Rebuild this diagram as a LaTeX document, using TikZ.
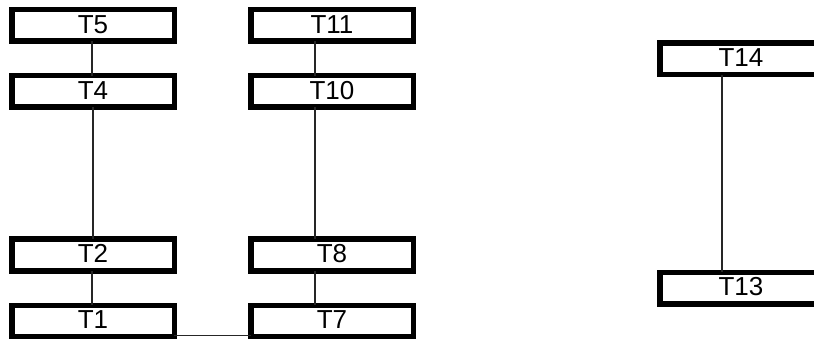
\documentclass[tikz,border=0pt]{standalone}
\usepackage{fontspec}
\setmainfont{Liberation Sans}
\tikzset{
  box/.style={draw=black, line width=5.5pt, fill=white, minimum width=162.5pt, minimum height=31.5pt,
    inner sep=0pt, outer sep=0pt, font=\fontsize{26}{28}\selectfont, text depth=0pt},
  link/.style={draw=black!85, line width=1.3pt}
}
\newcommand{\boxtext}[1]{\raisebox{2.5pt}{#1}}
\begin{document}
\begin{tikzpicture}[x=1pt,y=-1pt]
\useasboundingbox (0,0) rectangle (814,339);
\clip (0,0) rectangle (814,339);
\node[box] (T5)  at (93,25.5)  {\boxtext{T5}};
\node[box] (T4)  at (93,91.5)  {\boxtext{T4}};
\node[box] (T2)  at (93,255)   {\boxtext{T2}};
\node[box] (T1)  at (93,321)   {\boxtext{T1}};
\node[box] (T11) at (332,25.5) {\boxtext{T11}};
\node[box] (T10) at (332,91.5) {\boxtext{T10}};
\node[box] (T8)  at (332,255)  {\boxtext{T8}};
\node[box] (T7)  at (332,321)  {\boxtext{T7}};
\node[box] (T14) at (741,59)   {\boxtext{T14}};
\node[box] (T13) at (741,288)  {\boxtext{T13}};
\draw[link] ([xshift=-1pt]T5.south) -- ([xshift=-1pt]T4.north);
\draw[link] (T4.south) -- (T2.north);
\draw[link] ([xshift=-1pt]T2.south) -- ([xshift=-1pt]T1.north);
\draw[link] ([xshift=-17pt]T11.south) -- ([xshift=-17pt]T10.north);
\draw[link] ([xshift=-17pt]T10.south) -- ([xshift=-17pt]T8.north);
\draw[link] ([xshift=-17pt]T8.south) -- ([xshift=-17pt]T7.north);
\draw[link] ([xshift=-19pt]T14.south) -- ([xshift=-19pt]T13.north);
\draw[link] ([yshift=1pt]T1.south east) -- ([yshift=1pt]T7.south west);
\end{tikzpicture}
\end{document}
